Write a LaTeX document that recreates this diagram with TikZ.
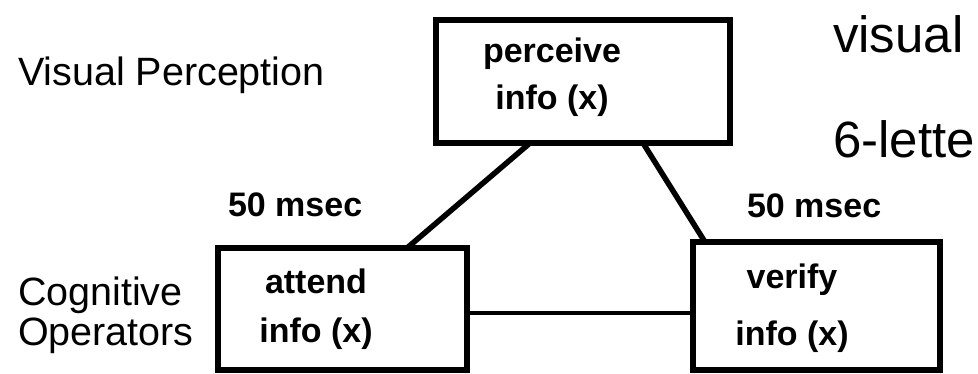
\documentclass[tikz,border=0pt]{standalone}
\usepackage{fontspec}
\setmainfont{Liberation Sans}
\usepackage{tikz}
\usetikzlibrary{positioning}

\begin{document}
\begin{tikzpicture}[x=1pt, y=-1pt, node distance=100pt,
    every node/.style={inner sep=0pt, outer sep=0pt},
    opbox/.style={draw, line width=6.5pt, minimum width=#1, minimum height=122pt},
    boxtext/.style={font=\fontsize{34}{48}\selectfont\bfseries, align=center, anchor=base},
    msec/.style={font=\fontsize{34}{40}\selectfont\bfseries, anchor=base west},
    side/.style={font=\fontsize{39.5}{40}\selectfont, align=left, anchor=base west},
    big/.style={font=\fontsize{51}{52}\selectfont, anchor=base west},
    link/.style={line width=5.5pt}]
  \useasboundingbox (0,0) rectangle (978,374);
  \node[opbox=294pt, minimum height=123pt] (perceive) at (583,81.5) {};
  \node[opbox=249pt, below=105pt of perceive, xshift=-240.5pt] (attend) {};
  \node[opbox=247pt, minimum height=128pt, below=99pt of perceive, xshift=233.5pt] (verify) {};

  \node[boxtext] (perceive-txt) at (552,110) {perceive\\[-1pt]info (x)};
  \node[boxtext] (attend-txt) at (316,342) {attend\\[1pt]info (x)};
  \node[boxtext] (verify-txt) at (792,345) {verify\\[9pt]info (x)};

  \node[side] (vis-label) at (18,86) {Visual Perception};
  \node[side] (cog-label) at (18,345) {Cognitive\\Operators};
  \node[msec] (left-time) at (228,217) {50 msec};
  \node[msec] (right-time) at (747,218) {50 msec};
  \node[big] (title1) at (833,53) {visual};
  \node[big] (title2) at (833,158) {6-lette};

  \draw[link] ([xshift=-53pt]perceive.south) -- ([xshift=64.5pt]attend.north);
  \draw[link] ([xshift=60pt]perceive.south) -- ([xshift=-111.5pt]verify.north);
  \draw[line width=4.5pt] ([yshift=-4pt]attend.east) -- ([yshift=-4pt]attend.east -| verify.west);
\end{tikzpicture}
\end{document}
